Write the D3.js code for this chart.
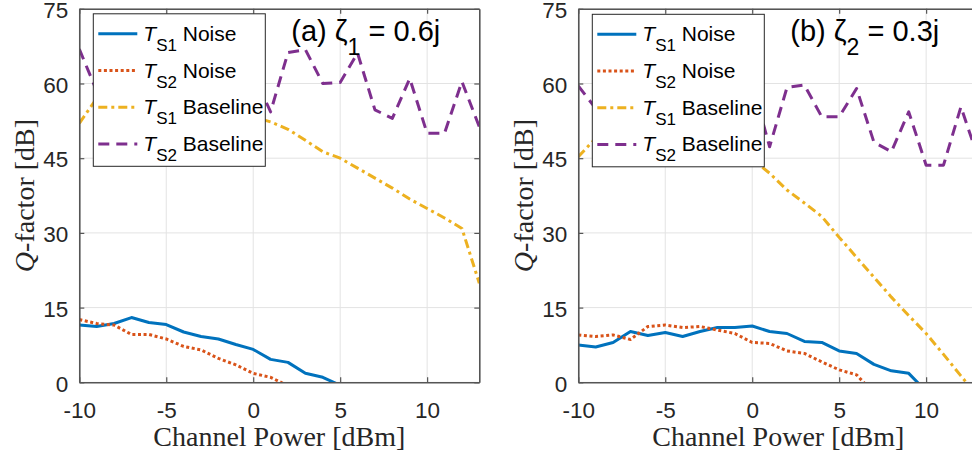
<!DOCTYPE html>
<html><head><meta charset="utf-8">
<script src="https://cdn.jsdelivr.net/npm/d3@7"></script>
<style>html,body{margin:0;padding:0;overflow:hidden;background:#fff}</style>
</head><body>
<svg id="chart" width="972" height="462"></svg>
<script>
// ---------------- data ----------------
const xValues = [-10,-9,-8,-7,-6,-5,-4,-3,-2,-1,0,1,2,3,4,5,6,7,8,9,10,11,12,13];
const xTicks = [-10,-5,0,5,10];
const yTicks = [0,15,30,45,60,75];
const seriesNames = ["Noise","Noise","Baseline","Baseline"];
const seriesSubs = ["S1","S2","S1","S2"];

// panel (a)
const a_ts1Noise = [11.5,11.2,11.8,13.0,12.0,11.6,10.1,9.2,8.7,7.6,6.6,4.6,4.0,1.8,1.0,-0.6];
const a_ts2Noise = [12.6,11.8,11.5,9.6,9.6,8.7,7.2,6.5,4.8,3.5,1.8,1.0,-0.7];
const a_ts1Base  = [52.0,57.0,58.5,58.0,57.5,57.0,56.5,55.8,55.0,54.2,53.3,52.3,50.8,48.6,46.3,45.0,43.0,41.0,39.0,36.8,34.9,33.0,30.9,19.9];
const a_ts2Base  = [66.9,58.5,61.0,64.0,62.0,58.0,63.0,65.0,61.0,59.0,62.0,54.3,66.2,66.8,60.0,60.2,66.1,54.7,53.0,61.0,50.0,50.0,60.4,51.3];

// panel (b)
const b_ts1Noise = [7.5,7.1,8.0,10.2,9.4,10.0,9.2,10.2,11.0,11.0,11.3,10.2,9.8,8.2,8.0,6.3,5.8,3.6,2.3,1.8,-1.8];
const b_ts2Noise = [9.5,9.2,9.5,8.6,11.2,11.5,11.0,11.2,10.5,9.8,8.0,7.8,6.3,5.8,4.1,2.5,1.5,-2.2];
const b_ts1Base  = [45.3,49.0,50.0,50.5,50.5,50.0,49.5,48.5,47.5,46.2,44.8,42.0,38.6,36.0,33.3,29.1,25.1,21.1,17.1,13.4,9.8,5.6,1.3,-3.0];
const b_ts2Base  = [59.5,55.0,52.0,57.0,58.0,54.0,52.0,56.0,58.0,55.0,60.0,47.3,59.2,59.7,53.3,53.3,59.0,48.2,46.3,54.3,43.6,43.6,55.3,45.0];

const titleLabels = ["(a) ", "(b) "];
const titleSubs = ["1", "2"];
const titleValues = [" = 0.6j", " = 0.3j"];

// ---------------- styles ----------------
const colors = ["#0072BD","#D95319","#EDB120","#7E2F8E"];
const dashes = [null, "3,2.6", "9,4,3,4", "11,7"];
const sans = "Liberation Sans, Arial, Helvetica, sans-serif";
const serif = "Liberation Serif, Times New Roman, serif";

const panels = [
  {left:79.3, series:[a_ts1Noise,a_ts2Noise,a_ts1Base,a_ts2Base], title:0},
  {left:578.3, series:[b_ts1Noise,b_ts2Noise,b_ts1Base,b_ts2Base], title:1}
];
const plotW = 400, plotTop = 8.8, plotBottom = 382.3;

const svg = d3.select("#chart");

panels.forEach((p, pi) => {
  const x = d3.scaleLinear().domain([-10,13]).range([p.left, p.left + plotW]);
  const y = d3.scaleLinear().domain([0,75]).range([plotBottom, plotTop]);
  const g = svg.append("g");

  const clipId = "clip" + pi;
  g.append("clipPath").attr("id", clipId).append("rect")
    .attr("x", x(-10)).attr("y", y(75)).attr("width", x(13)-x(-10)).attr("height", y(0)-y(75));

  // grid
  g.append("g").selectAll("line").data(xTicks).join("line")
    .attr("x1", d=>x(d)).attr("x2", d=>x(d)).attr("y1", y(0)).attr("y2", y(75))
    .attr("stroke", "#e3e3e3").attr("stroke-width", 1);
  g.append("g").selectAll("line").data(yTicks).join("line")
    .attr("x1", x(-10)).attr("x2", x(13)).attr("y1", d=>y(d)).attr("y2", d=>y(d))
    .attr("stroke", "#e3e3e3").attr("stroke-width", 1);

  // series
  const line = d3.line().x((d,i)=>x(xValues[i])).y(d=>y(d)).defined(d=>d!=null);
  const lg = g.append("g").attr("clip-path", `url(#${clipId})`);
  p.series.forEach((s, si) => {
    lg.append("path").datum(s).attr("d", line)
      .attr("fill","none").attr("stroke", colors[si]).attr("stroke-width", 3)
      .attr("stroke-linejoin","round")
      .attr("stroke-dasharray", dashes[si]);
  });

  // axes
  const axColor = "#262626";
  const ax = g.append("g").attr("transform", `translate(0,${y(0)})`)
    .call(d3.axisBottom(x).tickValues(xTicks).tickSizeInner(-5).tickSizeOuter(0).tickPadding(14));
  const ay = g.append("g").attr("transform", `translate(${x(-10)},0)`)
    .call(d3.axisLeft(y).tickValues(yTicks).tickSizeInner(-5).tickSizeOuter(0).tickPadding(11));
  const axT = g.append("g").attr("transform", `translate(0,${y(75)})`)
    .call(d3.axisTop(x).tickValues(xTicks).tickSizeInner(-5).tickSizeOuter(0).tickFormat(""));
  const ayR = g.append("g").attr("transform", `translate(${x(13)},0)`)
    .call(d3.axisRight(y).tickValues(yTicks).tickSizeInner(-5).tickSizeOuter(0).tickFormat(""));
  [ax, ay, axT, ayR].forEach(a => {
    a.select(".domain").attr("stroke", "#555").attr("stroke-width", 1.6);
    a.selectAll(".tick line").attr("stroke", "#555").attr("stroke-width", 1.2);
    a.selectAll(".tick text").attr("fill", axColor).style("font-family", sans).style("font-size", "22.5px");
  });
  ax.selectAll(".tick text").attr("y", 36).attr("dy", 0).text(d => d < 0 ? "-" + Math.abs(d) : d);
  ay.selectAll(".tick text").attr("dy", "0.39em");

  // axis labels
  g.append("text").attr("x", (x(-10)+x(13))/2).attr("y", 446)
    .attr("text-anchor","middle").style("font-family", serif).style("font-size","28px").attr("fill", axColor)
    .text("Channel Power [dBm]");
  const yl = g.append("text")
    .attr("transform", `translate(${p.left - 45},${(y(0)+y(75))/2}) rotate(-90)`)
    .attr("text-anchor","middle").style("font-family", serif).style("font-size","28px").attr("fill", axColor);
  yl.append("tspan").style("font-style","italic").text("Q");
  yl.append("tspan").text("-factor [dB]");

  // legend
  const lx = p.left + 14, ly = plotTop + 5 + (pi ? 0.5 : 0);
  const leg = g.append("g");
  leg.append("rect").attr("x", lx).attr("y", ly).attr("width", 172).attr("height", 152.5)
    .attr("fill","#fff").attr("stroke","#262626").attr("stroke-width",1);
  seriesNames.forEach((nm, i) => {
    const cy = ly + 20 + i * 36.7;
    leg.append("line").attr("x1", lx + 5).attr("x2", lx + 44).attr("y1", cy).attr("y2", cy)
      .attr("stroke", colors[i]).attr("stroke-width", 3).attr("stroke-dasharray", dashes[i]);
    const t = leg.append("text").attr("x", lx + 50).attr("y", cy + 7)
      .style("font-family", sans).style("font-size","21px").attr("fill","#000");
    t.append("tspan").style("font-style","italic").text("T");
    t.append("tspan").attr("dy", 10).style("font-size","17px").text(seriesSubs[i]);
    t.append("tspan").attr("dy", -10).text(" " + nm);
  });

  // title
  const tt = g.append("text").attr("x", p.left + 212).attr("y", 41)
    .style("font-family", sans).style("font-size","29px").attr("fill","#000");
  tt.append("tspan").text(titleLabels[p.title]);
  tt.append("tspan").text("ζ");
  tt.append("tspan").attr("dy", 14).style("font-size","23px").text(titleSubs[p.title]);
  tt.append("tspan").attr("dy", -14).text(titleValues[p.title]);
});
</script>
</body></html>
